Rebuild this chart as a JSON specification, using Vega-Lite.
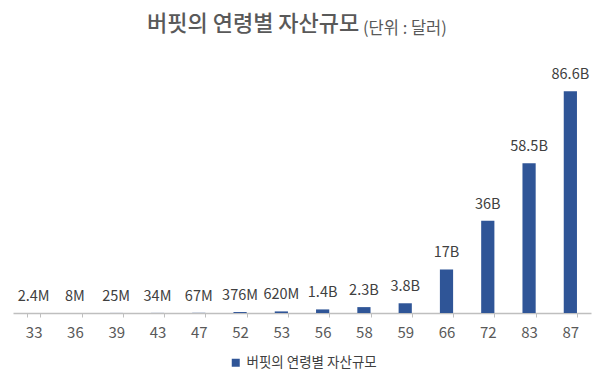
{
  "$schema": "https://vega.github.io/schema/vega-lite/v6.json",
  "width": 578,
  "height": 256,
  "autosize": "none",
  "padding": {"left": 13, "top": 57, "right": 12, "bottom": 65},
  "background": "white",
  "config": {
    "view": {"stroke": null},
    "font": "Noto Sans CJK KR"
  },
  "title": {
    "text": "버핏의 연령별 자산규모",
    "subtitle": "⠀⠀⠀⠀⠀⠀⠀⠀⠀⠀⠀⠀⠀⠀⠀⠀⠀⠀(단위 : 달러)",
    "anchor": "start",
    "frame": "group",
    "dx": 134,
    "offset": 19,
    "fontSize": 22,
    "fontWeight": 500,
    "color": "#595959",
    "subtitleFontSize": 16.5,
    "subtitleColor": "#595959",
    "subtitlePadding": -15,
    "font": "Noto Sans CJK KR",
    "subtitleFont": "Noto Sans CJK KR"
  },
  "data": {
    "values": [
      {"age": "33", "value": 0.0024, "label": "2.4M"},
      {"age": "36", "value": 0.008, "label": "8M"},
      {"age": "39", "value": 0.025, "label": "25M"},
      {"age": "43", "value": 0.034, "label": "34M"},
      {"age": "47", "value": 0.067, "label": "67M"},
      {"age": "52", "value": 0.376, "label": "376M"},
      {"age": "53", "value": 0.62, "label": "620M"},
      {"age": "56", "value": 1.4, "label": "1.4B"},
      {"age": "58", "value": 2.3, "label": "2.3B"},
      {"age": "59", "value": 3.8, "label": "3.8B"},
      {"age": "66", "value": 17, "label": "17B"},
      {"age": "72", "value": 36, "label": "36B"},
      {"age": "83", "value": 58.5, "label": "58.5B"},
      {"age": "87", "value": 86.6, "label": "86.6B"}
    ]
  },
  "encoding": {
    "x": {
      "field": "age",
      "type": "ordinal",
      "sort": null,
      "scale": {"paddingInner": 0.68, "paddingOuter": 0.34},
      "axis": {
        "title": null,
        "labelAngle": 0,
        "labelFontSize": 15,
        "labelColor": "#595959",
        "labelPadding": 8,
        "domainColor": "#BFBFBF",
        "domainWidth": 1.5,
        "tickColor": "#BFBFBF",
        "tickSize": 4,
        "tickBand": "extent"
      }
    },
    "y": {
      "field": "value",
      "type": "quantitative",
      "scale": {"domain": [0, 100], "nice": false},
      "axis": null
    }
  },
  "layer": [
    {
      "mark": {"type": "bar"},
      "encoding": {
        "color": {
          "datum": "버핏의 연령별 자산규모",
          "scale": {"range": ["#2F5597"]},
          "legend": {
            "title": null,
            "orient": "none",
            "legendX": 216,
            "legendY": 299,
            "direction": "horizontal",
            "symbolType": "square",
            "symbolSize": 64,
            "labelFontSize": 13.5,
            "labelColor": "#404040"
          }
        }
      }
    },
    {
      "mark": {"type": "text", "dy": -12, "baseline": "alphabetic", "fontSize": 14.5, "color": "#404040"},
      "encoding": {"text": {"field": "label"}}
    }
  ]
}
